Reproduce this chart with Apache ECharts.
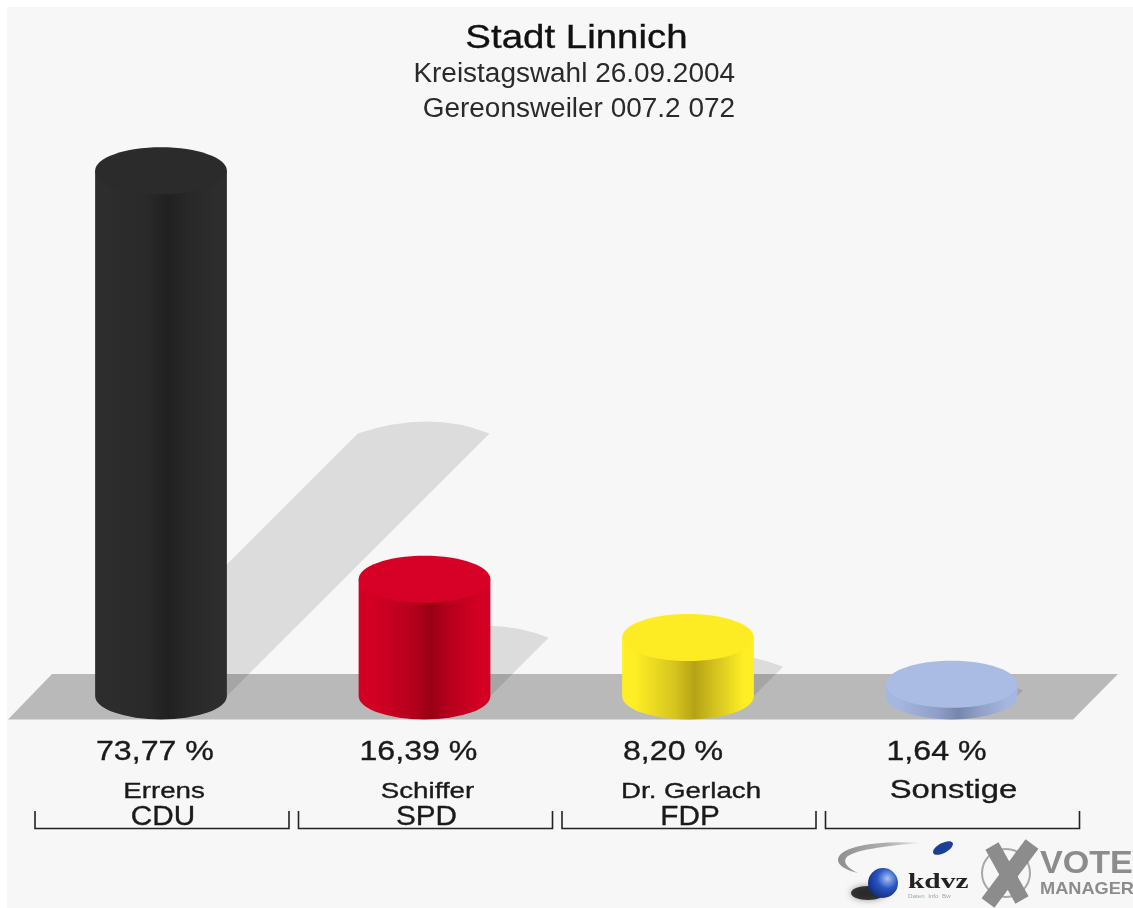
<!DOCTYPE html>
<html>
<head>
<meta charset="utf-8">
<style>html,body{margin:0;padding:0;background:#fff;overflow:hidden}#c{width:1133px;height:908px;filter:blur(0.7px)}</style>
<script src="https://cdn.jsdelivr.net/npm/echarts@6/dist/echarts.min.js"></script>
</head>
<body>
<div id="c"></div>
<script>
const candidates = ['Errens', 'Schiffer', 'Dr. Gerlach', 'Sonstige'];
const parties = ['CDU', 'SPD', 'FDP', ''];
const shares = [73.77, 16.39, 8.20, 1.64];
const shareLabels = ['73,77 %', '16,39 %', '8,20 %', '1,64 %'];

const palette = [
  {top:'#2b2b2b', edge:'#2d2d2d', low:'#292929', mid:'#202020', high:'#282828'},
  {top:'#d70026', edge:'#d40024', low:'#b6001c', mid:'#990015', high:'#b8001d'},
  {top:'#fdec24', edge:'#fdee25', low:'#d6c41e', mid:'#b5a316', high:'#d3c21e'},
  {top:'#abbce4', edge:'#a6b7df', low:'#8e9ec6', mid:'#7585ab', high:'#8e9ec6'}
];
const RY = 23.5, INK = '#1a1a1a', FONT = '"Liberation Sans", Arial, sans-serif';

const chart = echarts.init(document.getElementById('c'), null, {renderer:'canvas'});

function sideGradient(c){
  return new echarts.graphic.LinearGradient(0,0,1,0,[
    {offset:0,color:c.edge},{offset:0.1,color:c.edge},{offset:0.4,color:c.low},{offset:0.55,color:c.mid},
    {offset:0.7,color:c.high},{offset:0.92,color:c.edge},{offset:1,color:c.edge}
  ]);
}
function renderShadow(params, api){
  const i = api.value(0), base = api.coord([i,0]), top = api.coord([i,api.value(1)]);
  const rx = api.size([1,0])[0]*0.25, d = (base[1]-top[1])/2;
  const cx = base[0], by = base[1];
  const L = cx+d-rx, R = cx+d+rx, Y = by-d;
  return {type:'path', shape:{pathData:
    `M${L} ${Y}Q${cx+d+6} ${Y-24} ${R} ${Y}L${cx+rx} ${by}L${cx-rx} ${by}Z`}, style:{fill:'rgba(0,0,0,0.105)'}};
}
function renderCylinder(params, api){
  const i = api.value(0), base = api.coord([i,0]), top = api.coord([i,api.value(1)]);
  const rx = api.size([1,0])[0]*0.25, cx = base[0];
  const c = palette[i];
  return {type:'group', children:[
    {type:'path', shape:{pathData:
      `M${cx-rx} ${top[1]}L${cx+rx} ${top[1]}L${cx+rx} ${base[1]}A${rx} ${RY} 0 0 1 ${cx-rx} ${base[1]}Z`},
      style:{fill:sideGradient(c)}},
    {type:'ellipse', shape:{cx:cx, cy:top[1], rx:rx, ry:RY}, style:{fill:c.top}}
  ]};
}
function label(text,x,y,size,sx,align){
  return {type:'text', x:x, y:y, scaleX:sx, style:{text:text, x:0, y:0, align:align||'center', verticalAlign:'middle',
    font:`${size}px ${FONT}`, fill:INK, stroke:INK, lineWidth:0.35}};
}
function renderLabels(params, api){
  const i = api.value(0), cx = api.coord([i,0])[0];
  const party = parties[i], l = cx-126, r = cx+128;
  const kids = [
    label(shareLabels[i], cx-65, 753, 27, 1.19, 'left'),
    {type:'path', shape:{pathData:`M${l} 811L${l} 828.5L${r} 828.5L${r} 811`}, style:{fill:'none', stroke:'#222', lineWidth:1.6}}
  ];
  if(party){
    kids.push(label(candidates[i], cx+3, 791.5, 22, 1.26));
    kids.push(label(party, cx+2, 818, 27, 1.1));
  }else{
    kids.push(label(candidates[i], cx+2, 790.5, 26, 1.26));
  }
  return {type:'group', children:kids};
}
const gray = '#8c8c8c';
function renderLogo(){
  const swoosh = new echarts.graphic.LinearGradient(0,0,1,0,[{offset:0,color:'#8f8f8f'},{offset:0.6,color:'#b0b0b0'},{offset:1,color:'#e8e8e8'}]);
  return {type:'group', children:[
    {type:'path', shape:{pathData:'M920 843C880 840 838 846 838 860C838 866 848 871 858 873C848 868 843 863 846 858C852 850 885 846 920 843Z'}, style:{fill:swoosh}},
    {type:'ellipse', shape:{cx:0,cy:0,rx:11,ry:5}, x:943, y:848, rotation:0.5, style:{fill:'#1d3f94'}},
    {type:'ellipse', shape:{cx:868,cy:893,rx:17,ry:7}, style:{fill:'rgba(15,15,15,0.8)', shadowBlur:6, shadowColor:'rgba(0,0,0,0.5)'}},
    {type:'circle', shape:{cx:883,cy:883,r:15}, style:{fill:new echarts.graphic.RadialGradient(0.65,0.35,0.75,[{offset:0,color:'#a9c4ee'},{offset:0.45,color:'#2b55c4'},{offset:1,color:'#0e2a7a'}])}},
    {type:'text', x:908, y:883, scaleX:1.4, style:{text:'kdvz', align:'left', verticalAlign:'middle', font:'bold 21px "Liberation Serif", serif', fill:'#222'}},
    {type:'text', x:908, y:897, scaleX:1.25, style:{text:'Daten  Info  Bw', align:'left', verticalAlign:'middle', font:'5px '+FONT, fill:'#9aa'}},
    {type:'circle', shape:{cx:1006,cy:873,r:24}, style:{fill:'none', stroke:'#a8a8a8', lineWidth:2}},
    {type:'path', shape:{pathData:'M992 846L1022 900'}, style:{fill:'none', stroke:gray, lineWidth:15}},
    {type:'path', shape:{pathData:'M1032 844L988 903'}, style:{fill:'none', stroke:gray, lineWidth:16}},
    {type:'text', x:1040, y:864, scaleX:1.1, style:{text:'VOTE', align:'left', verticalAlign:'middle', font:`bold 31px ${FONT}`, fill:gray}},
    {type:'text', x:1040, y:889, scaleX:1.07, style:{text:'MANAGER', align:'left', verticalAlign:'middle', font:`bold 17px ${FONT}`, fill:gray}}
  ]};
}

const rows = shares.map((v,i)=>[i,v]);
const graphicEls = [
  {type:'rect', shape:{x:7,y:7,width:1126,height:901}, style:{fill:'#f7f7f7'}, z:-3},
  {type:'polygon', shape:{points:[[8,719.5],[1073,719.5],[1118,674],[52,674]]}, style:{fill:'#b9b9b9'}, z:-2},
  {type:'text', x:576.5, y:38.5, scaleX:1.165, style:{text:'Stadt Linnich', align:'center', verticalAlign:'middle', font:`33px ${FONT}`, fill:'#111', stroke:'#111', lineWidth:0.35}},
  {type:'text', x:735, y:75, scaleX:1.035, style:{text:'Kreistagswahl 26.09.2004', align:'right', verticalAlign:'middle', font:`27px ${FONT}`, fill:'#2a2a2a'}},
  {type:'text', x:735, y:110, scaleX:1.035, style:{text:'Gereonsweiler 007.2 072', align:'right', verticalAlign:'middle', font:`27px ${FONT}`, fill:'#2a2a2a'}}
];

chart.setOption({
  animation:false,
  backgroundColor:'#ffffff',
  grid:{left:29.25, top:126.4, width:1054, height:569.6, containLabel:false},
  xAxis:{type:'category', data:candidates, show:false},
  yAxis:{type:'value', min:0, max:80, show:false},
  graphic:{elements:graphicEls},
  series:[
    {type:'custom', z:1, data:rows, renderItem:renderShadow, silent:true, encode:{x:0,y:1}},
    {type:'custom', z:2, data:rows, renderItem:renderCylinder, silent:true, encode:{x:0,y:1}},
    {type:'custom', z:3, data:rows, renderItem:renderLabels, silent:true, encode:{x:0,y:1}},
    {type:'custom', z:3, data:[rows[0]], renderItem:renderLogo, silent:true, encode:{x:0,y:1}}
  ]
});
</script>
</body>
</html>
